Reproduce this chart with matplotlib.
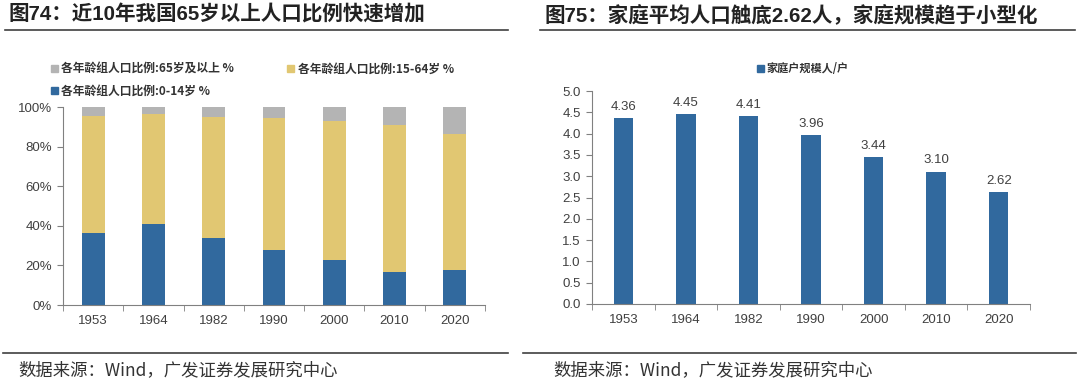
import numpy as np
import matplotlib
matplotlib.use("Agg")
import matplotlib.pyplot as plt
from matplotlib.lines import Line2D
from matplotlib.patches import Patch

plt.rcParams['font.family'] = ['Liberation Sans', 'Noto Sans CJK SC', 'DejaVu Sans']

# 数据
years = ["1953", "1964", "1982", "1990", "2000", "2010", "2020"]
age_0_14 = [36.3, 40.7, 33.6, 27.7, 22.9, 16.6, 17.9]
age_65_up = [4.4, 3.6, 4.9, 5.6, 7.0, 8.9, 13.5]
age_15_64 = [100 - a - b for a, b in zip(age_0_14, age_65_up)]
household_size = [4.36, 4.45, 4.41, 3.96, 3.44, 3.10, 2.62]

title_left = "图74：近10年我国65岁以上人口比例快速增加"
title_right = "图75：家庭平均人口触底2.62人，家庭规模趋于小型化"
source_text = "数据来源：Wind，广发证券发展研究中心"

blue = "#31699E"
yellow = "#E1C772"
gray = "#B4B4B4"
axis_c = "#808080"
text_c = "#404040"
cjk = ['Noto Sans CJK SC', 'DejaVu Sans']

fig = plt.figure(figsize=(10.8, 3.84), dpi=100)

# %% 左图
ax1 = fig.add_axes([63/1080, 1 - 305/384, 422/1080, 198/384])
x = np.arange(len(years))
w = 0.38
ax1.bar(x, age_0_14, w, color=blue)
ax1.bar(x, age_15_64, w, bottom=age_0_14, color=yellow)
bottom3 = [a + b for a, b in zip(age_0_14, age_15_64)]
ax1.bar(x, age_65_up, w, bottom=bottom3, color=gray)
ax1.set_ylim(0, 100)
ax1.set_xlim(-0.5, len(years) - 0.5)
ax1.set_yticks(range(0, 101, 20))
ax1.set_yticklabels([f"{v}%" for v in range(0, 101, 20)])

handles = [Patch(color=gray), Patch(color=blue), Patch(color=yellow)]
labels = ["各年龄组人口比例:65岁及以上 %", "各年龄组人口比例:0-14岁 %", "各年龄组人口比例:15-64岁 %"]
fig.legend(handles, labels, ncol=2, loc="upper left", bbox_to_anchor=(40/1080, 1 - 52/384),
           frameon=False, prop={'family': cjk, 'size': 8.5, 'weight': 'bold'},
           handlelength=0.6, handleheight=0.6, handletextpad=0.3, columnspacing=4.5,
           labelspacing=0.75, labelcolor="#333333")

# %% 右图
ax2 = fig.add_axes([592/1080, 1 - 304/384, 438/1080, 213/384])
ax2.bar(x, household_size, 0.31, color=blue)
ax2.set_ylim(0, 5)
ax2.set_xlim(-0.5, len(years) - 0.5)
ax2.set_yticks(np.arange(0, 5.01, 0.5))
ax2.set_yticklabels([f"{v:.1f}" for v in np.arange(0, 5.01, 0.5)])
for xi, v in zip(x, household_size):
    ax2.text(xi, v + 0.13, f"{v:.2f}", ha="center", va="bottom", fontsize=9.5, color=text_c)
fig.legend([Patch(color=blue)], ["家庭户规模人/户"], loc="center", bbox_to_anchor=(803/1080, 1 - 69/384),
           frameon=False, prop={'family': cjk, 'size': 8, 'weight': 'bold'},
           handlelength=0.6, handleheight=0.6, handletextpad=0.3, labelcolor="#333333")

for ax in (ax1, ax2):
    for s in ("top", "right"):
        ax.spines[s].set_visible(False)
    for s in ("left", "bottom"):
        ax.spines[s].set_color(axis_c)
        ax.spines[s].set_linewidth(0.8)
    ax.set_xticks(x)
    ax.set_xticklabels(years)
    ax.set_xticks(np.arange(-0.5, len(years), 1), minor=True)
    ax.tick_params(axis="x", which="major", length=0, pad=7, labelsize=9.5, labelcolor=text_c)
    ax.tick_params(axis="x", which="minor", length=4, color=axis_c, direction="out")
    ax.tick_params(axis="y", length=4, color=axis_c, labelsize=9.5, labelcolor=text_c, pad=4)

# %% 标题、分隔线、来源
fig.text(8/1080, 1 - 15/384, title_left, fontsize=14.8, fontweight="bold", color="#222222",
         va="center", ha="left")
fig.text(545/1080, 1 - 15/384, title_right, fontsize=14.8, fontweight="bold", color="#222222",
         va="center", ha="left")
for x0, x1 in ((5, 508), (540, 1075)):
    fig.add_artist(Line2D([x0/1080, x1/1080], [1 - 30/384] * 2, color="#404040", lw=1.2))
for x0, x1 in ((3, 508), (523, 1076)):
    fig.add_artist(Line2D([x0/1080, x1/1080], [1 - 353/384] * 2, color="#404040", lw=1.2))
fig.text(18/1080, 1 - 370/384, source_text, fontsize=12.5, color="#333333", va="center",
         family=cjk)
fig.text(553/1080, 1 - 370/384, source_text, fontsize=12.5, color="#333333", va="center",
         family=cjk)

fig.savefig("out.png", dpi=100)
